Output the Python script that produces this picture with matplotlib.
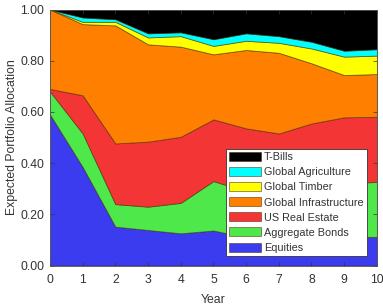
import numpy as np
import matplotlib
matplotlib.use('Agg')
import matplotlib.pyplot as plt

plt.rcParams['font.family'] = ['Liberation Sans', 'DejaVu Sans']

# Años y asignaciones por activo
anios = [0, 1, 2, 3, 4, 5, 6, 7, 8, 9, 10]
equities = [0.59, 0.385, 0.152, 0.139, 0.126, 0.137, 0.11, 0.11, 0.11, 0.112, 0.112]
bonos = [0.09, 0.131, 0.088, 0.091, 0.119, 0.193, 0.18, 0.19, 0.20, 0.208, 0.215]
real_estate = [0.01, 0.149, 0.237, 0.254, 0.258, 0.241, 0.246, 0.216, 0.245, 0.259, 0.254]
infraestructura = [0.31, 0.278, 0.461, 0.380, 0.352, 0.254, 0.306, 0.315, 0.235, 0.165, 0.167]
timber = [0.0, 0.009, 0.014, 0.027, 0.041, 0.033, 0.036, 0.039, 0.058, 0.072, 0.072]
agricultura = [0.0, 0.017, 0.010, 0.016, 0.015, 0.026, 0.029, 0.026, 0.026, 0.023, 0.025]
tbills = [0.0, 0.031, 0.038, 0.093, 0.089, 0.116, 0.093, 0.104, 0.126, 0.161, 0.155]

nombres = ['Equities', 'Aggregate Bonds', 'US Real Estate', 'Global Infrastructure',
           'Global Timber', 'Global Agriculture', 'T-Bills']
colores = ['#3b3bef', '#4ee84a', '#f43535', '#ff8000', '#ffff00', '#00ffff', '#000000']

fig = plt.figure(figsize=(3.83, 3.07), dpi=100)
ax = fig.add_axes([0.1305, 0.135, 0.8535, 0.834])

areas = ax.stackplot(anios, equities, bonos, real_estate, infraestructura, timber,
                     agricultura, tbills, labels=nombres, colors=colores,
                     edgecolor=(0.25, 0.15, 0.0, 0.6), linewidth=0.6)

ax.set_xlim(0, 10)
ax.set_ylim(0, 1)
ax.set_xticks(range(0, 11))
ax.set_yticks(np.arange(0, 1.01, 0.2))
ax.set_yticklabels(['%.2f' % v for v in np.arange(0, 1.01, 0.2)])
ax.tick_params(direction='in', top=True, right=True, length=3, width=0.5,
               labelsize=8.8, colors='#333333', pad=4)
ax.tick_params(axis='x', pad=6)
for s in ax.spines.values():
    s.set_linewidth(0.6)
    s.set_color('#555555')

ax.set_xlabel('Year', fontsize=8.8, color='#333333', labelpad=6)
ax.set_ylabel('Expected Portfolio Allocation', fontsize=8.8, color='#333333', labelpad=2)

handles, labels = ax.get_legend_handles_labels()
leg = ax.legend(handles[::-1], labels[::-1], loc='lower right',
                bbox_to_anchor=(0.969, 0.037), fontsize=7.8, fancybox=False,
                frameon=True, edgecolor='#333333', framealpha=1,
                handlelength=2.9, handleheight=0.9, labelspacing=0.45,
                borderpad=0.3, handletextpad=0.3, borderaxespad=0)
leg.get_frame().set_linewidth(0.6)
for t in leg.get_texts():
    t.set_color('#333333')

plt.savefig('out.png', dpi=100)
